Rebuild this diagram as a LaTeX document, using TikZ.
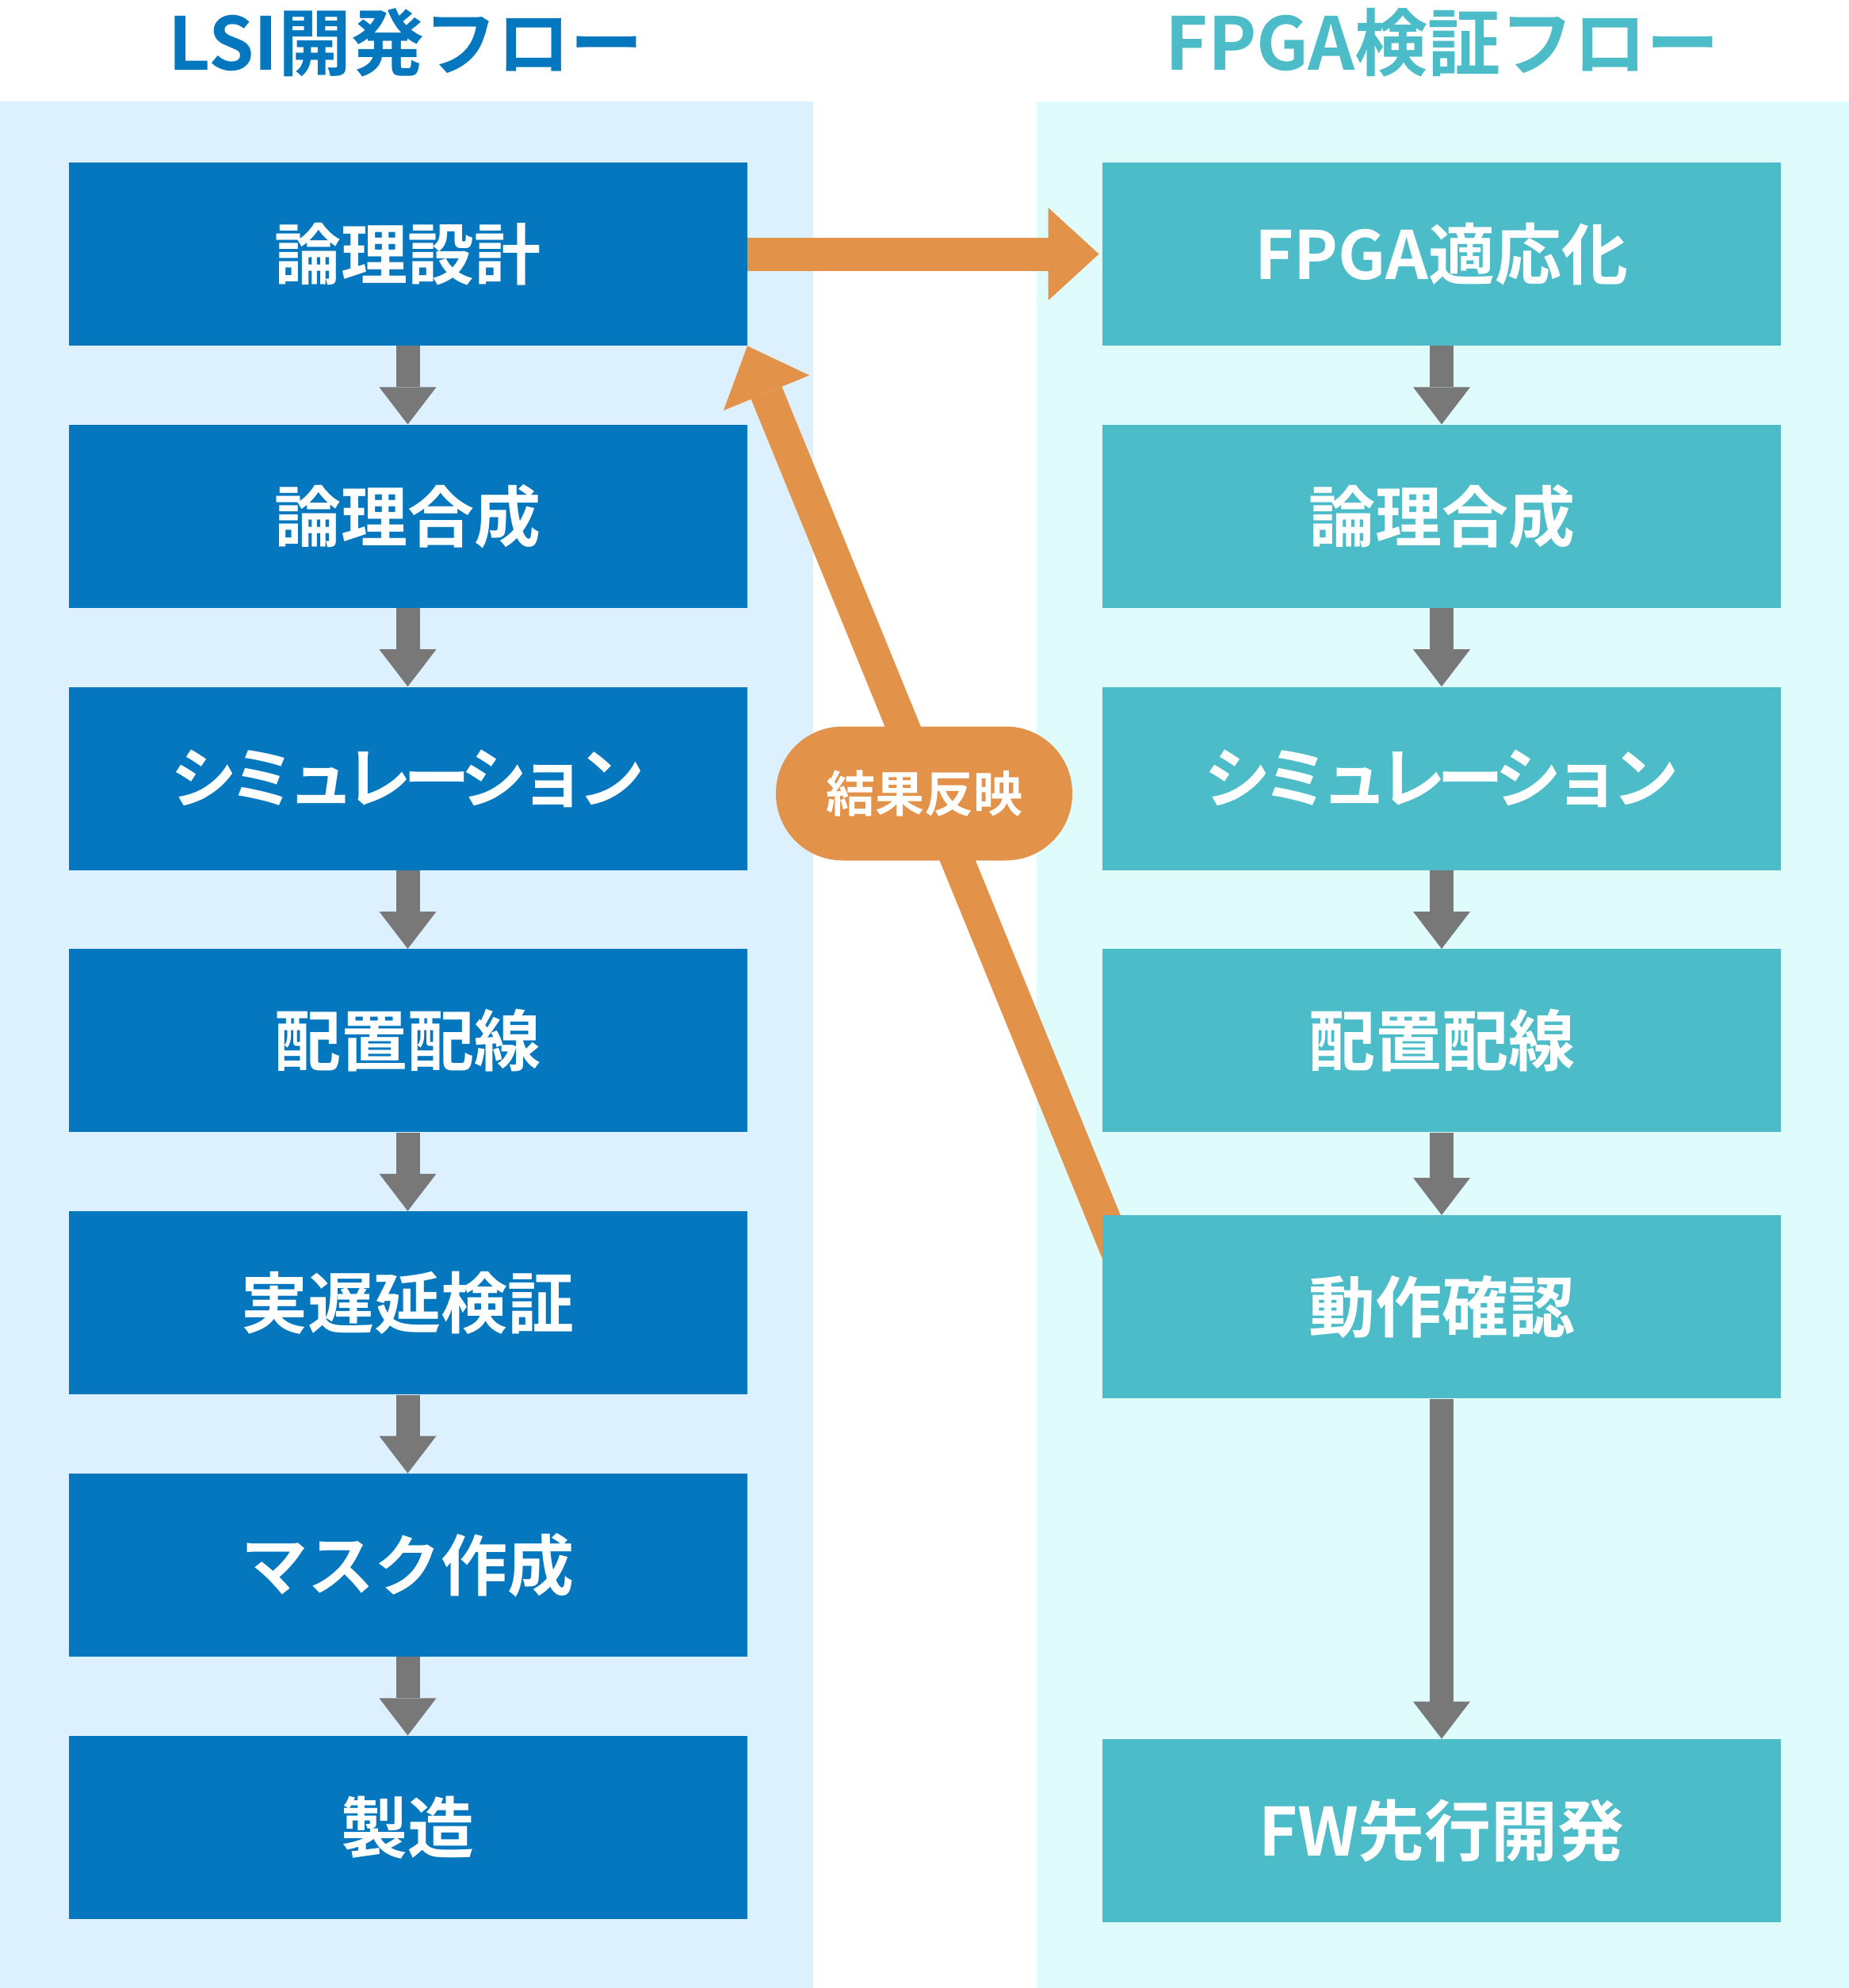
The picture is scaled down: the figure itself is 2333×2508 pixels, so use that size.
\documentclass[tikz,border=0pt]{standalone}
\usepackage{fontspec}
\setmainfont{Noto Sans CJK JP}[BoldFont=* Bold]
\usepackage{tikz}
\usetikzlibrary{positioning,arrows.meta}
\definecolor{lsiblue}{HTML}{0477BE}
\definecolor{fpgateal}{HTML}{4BBCC8}
\definecolor{lsibg}{HTML}{DDF0FD}
\definecolor{fpgabg}{HTML}{E0FBFC}
\definecolor{fborange}{HTML}{E39349}
\definecolor{flowgray}{HTML}{787878}
\pgfdeclarelayer{background}
\pgfdeclarelayer{mid}
\pgfsetlayers{background,mid,main}
\tikzstyle{box}=[minimum width=428pt, minimum height=115.5pt, node distance=49.5pt, inner sep=0pt, text=white, font=\fontsize{42pt}{50pt}\selectfont\bfseries]
\tikzstyle{lsibox}=[box, fill=lsiblue]
\tikzstyle{fpgabox}=[box, fill=fpgateal]
\tikzstyle{tight}=[font=\fontsize{42pt}{50pt}\selectfont\bfseries\addfontfeature{LetterSpace=-12}]
\tikzstyle{title}=[font=\fontsize{46pt}{55pt}\selectfont\bfseries]
\tikzstyle{flow}=[draw=flowgray, line width=15pt, -{Triangle[length=23.5pt,width=36pt,line width=0pt]}]
\tikzstyle{feedback}=[draw=fborange, line width=21pt, -{Triangle[length=32pt,width=58.5pt,line width=0pt]}]
\tikzstyle{pill}=[fill=fborange, rounded corners=42pt, minimum width=187pt, minimum height=84.5pt, text=white, font=\fontsize{31pt}{37pt}\selectfont\bfseries]

\begin{document}
\begin{tikzpicture}[x=0.5pt,y=-0.5pt]
    \useasboundingbox (0,0) rectangle (2333,2508);

    \node[title,text=lsiblue] (lsihead) at (512,54) {LSI開発フロー};
    \node[title,text=fpgateal] (fpgahead) at (1820,54) {FPGA検証フロー};

    % LSI side
    \node[lsibox] (ronri) at (514.5,320.5) {論理設計};
    \node[lsibox] (gousei) [below = of ronri] {論理合成};
    \node[lsibox,tight] (sim) [below = of gousei] {シミュレーション};
    \node[lsibox] (haichi) [below = of sim] {配置配線};
    \node[lsibox] (jitsu) [below = of haichi] {実遅延検証};
    \node[lsibox] (mask) [below = of jitsu] {マスク作成};
    \node[lsibox] (seizou) [below = of mask] {製造};

    % FPGA side
    \node[fpgabox] (fpga) at (1819,320.5) {FPGA適応化};
    \node[fpgabox] (fgousei) [below = of fpga] {論理合成};
    \node[fpgabox,tight] (fsim) [below = of fgousei] {シミュレーション};
    \node[fpgabox] (fhaichi) [below = of fsim] {配置配線};
    \node[fpgabox] (kakunin) [below = 52pt of fhaichi] {動作確認};
    \node[fpgabox] (fw) [below = 214.5pt of kakunin] {FW先行開発};

    \foreach \a/\b in {ronri/gousei,gousei/sim,sim/haichi,haichi/jitsu,jitsu/mask,mask/seizou,fpga/fgousei,fgousei/fsim,fsim/fhaichi,fhaichi/kakunin,kakunin/fw}
        \draw[flow] (\a) -- (\b);

    \draw[feedback, shorten >=2pt] (ronri.east) -- (fpga.west);
    \begin{pgfonlayer}{mid}
        \draw[feedback] ([shift={(29,70)}]kakunin.north west) -- (ronri.south east);
    \end{pgfonlayer}
    \node[pill] (kekka) at (1166,1001) {結果反映};

    \begin{pgfonlayer}{background}
        \fill[lsibg] (0,128) rectangle (1026,2508);
        \fill[fpgabg] (1308,128) rectangle (2333,2508);
    \end{pgfonlayer}

\end{tikzpicture}
\end{document}
